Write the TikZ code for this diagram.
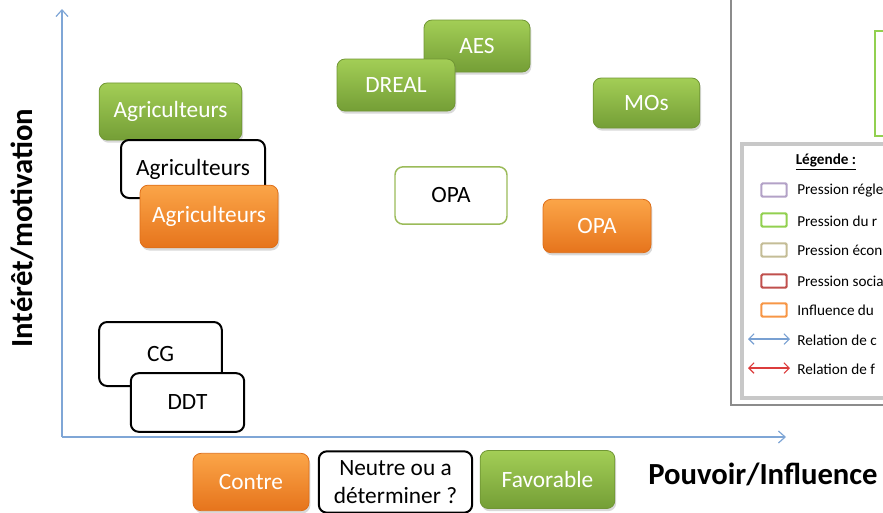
\documentclass[tikz,border=0pt]{standalone}
\usepackage{fontspec}
\setmainfont{Carlito}
\usetikzlibrary{arrows.meta, shadows}

\definecolor{axisblue}{RGB}{127,166,214}
\definecolor{greentop}{RGB}{163,206,86}
\definecolor{greenbot}{RGB}{116,158,54}
\definecolor{greenline}{RGB}{112,150,52}
\definecolor{orangetop}{RGB}{251,165,72}
\definecolor{orangebot}{RGB}{230,116,28}
\definecolor{orangeline}{RGB}{222,110,24}
\definecolor{olivegreen}{RGB}{155,187,89}
\definecolor{leggreen}{RGB}{146,208,80}
\definecolor{legpurple}{RGB}{179,162,199}
\definecolor{legtan}{RGB}{196,189,151}
\definecolor{legred}{RGB}{192,80,77}
\definecolor{legorange}{RGB}{247,150,70}
\definecolor{legblue}{RGB}{120,160,210}
\definecolor{legarrowred}{RGB}{220,60,60}
\definecolor{framegray}{RGB}{140,140,140}
\definecolor{boxgray}{RGB}{200,200,200}

\begin{document}
\begin{tikzpicture}[x=0.75pt,y=0.75pt,yscale=-1,xscale=1,
  box/.style={rounded corners=6pt, align=center, inner sep=0pt,
    font=\fontsize{17.5}{21}\selectfont},
  soft/.style={drop shadow={shadow xshift=1pt, shadow yshift=-2pt, opacity=0.3}},
  greenbox/.style={box, soft, draw=greenline, line width=0.6pt,
    top color=greentop, bottom color=greenbot, text=white},
  orangebox/.style={box, soft, draw=orangeline, line width=0.6pt,
    top color=orangetop, bottom color=orangebot, text=white},
  whitebox/.style={box, draw=black, line width=1.5pt, fill=white},
  sz/.style 2 args={minimum width=#1, minimum height=#2},
  legbox/.style={draw=#1, line width=1.6pt, rounded corners=1pt,
    minimum width=19pt, minimum height=10pt, inner sep=0pt},
  legtext/.style={anchor=west, inner sep=0pt, font=\fontsize{11.4}{13}\selectfont},
  axis/.style={draw=axisblue, line width=0.9pt, -{Straight Barb[length=5pt, width=9pt]}},
  axislabel/.style={font=\fontsize{23}{27}\selectfont\bfseries}
]
\useasboundingbox (0,0) rectangle (883,512);
\clip (0,0) rectangle (883,512);

%axes
\coordinate (origin) at (62,437);
\coordinate (ytip) at (62,9);
\coordinate (xtip) at (786,437);
\draw[axis] (origin) -- (ytip);
\draw[axis] (origin) -- (xtip);
\node[axislabel, rotate=90] (ylabel) at (22,228) {Intérêt/motivation};
\node[axislabel] (xlabel) at (763,474) {Pouvoir/Influence};

%actors
\node[greenbox, sz={107pt}{42.8pt}] (agrifav) at (170.5,111.5) {Agriculteurs};
\node[whitebox, sz={108pt}{43.5pt}] (agrineu) at (193,169) {Agriculteurs};
\node[orangebox, sz={103.5pt}{47pt}] (agricon) at (209,216.5) {Agriculteurs};

\node[greenbox, sz={79.5pt}{39pt}] (aes) at (477,46) {AES};
\node[greenbox, sz={88.5pt}{39pt}] (dreal) at (396,85) {DREAL};
\node[greenbox, sz={80pt}{37.5pt}] (mos) at (646.5,103) {MOs};

\node[box, draw=olivegreen, line width=1.1pt, fill=white, sz={84pt}{43pt}] (opaneu) at (451,195.5) {OPA};
\node[orangebox, sz={81pt}{40pt}] (opacon) at (597,226) {OPA};

\node[whitebox, sz={92pt}{48pt}] (cg) at (160.5,354) {CG};
\node[whitebox, sz={85pt}{44pt}] (ddt) at (187.5,402.5) {DDT};

%key below the axis
\node[orangebox, sz={87pt}{43pt}] (contre) at (251,482) {Contre};
\node[whitebox, sz={115pt}{46pt}] (neutre) at (395.5,482) {Neutre ou a\\déterminer ?};
\node[greenbox, sz={101pt}{43.5pt}] (favorable) at (547.5,479.5) {Favorable};

%legend frame
\draw[draw=framegray, line width=1.2pt] (731,-10) rectangle (900,405);
\draw[draw=boxgray, line width=2.4pt] (742,144) rectangle (900,398);
\draw[draw=leggreen, line width=2.2pt] (875,31) rectangle (900,136);

\node[font=\fontsize{11.4}{13}\selectfont\bfseries, inner sep=0pt] (legtitle) at (826,162) {\underline{Légende :}};

\node[legbox=legpurple] (k1) at (774,190) {};
\node[legbox=leggreen] (k2) at (774,220) {};
\node[legbox=legtan] (k3) at (774,250) {};
\node[legbox=legred] (k4) at (774,281) {};
\node[legbox=legorange] (k5) at (774,310) {};

\node[legtext] (t1) at (797,191) {Pression régle};
\node[legtext] (t2) at (797,221) {Pression du r};
\node[legtext] (t3) at (797,250) {Pression écon};
\node[legtext] (t4) at (797,281) {Pression socia};
\node[legtext] (t5) at (797,310) {Influence du};
\node[legtext] (t6) at (797,340) {Relation de c};
\node[legtext] (t7) at (797,369) {Relation de f};

\coordinate (b1) at (748,339);
\coordinate (b2) at (790,339);
\coordinate (r1) at (748,368);
\coordinate (r2) at (790,368);
\draw[draw=legblue, line width=0.8pt, {Straight Barb[length=4pt, width=8pt]}-{Straight Barb[length=4pt, width=8pt]}] (b1) -- (b2);
\draw[draw=legarrowred, line width=0.8pt, {Straight Barb[length=4pt, width=8pt]}-{Straight Barb[length=4pt, width=8pt]}] (r1) -- (r2);

\end{tikzpicture}
\end{document}
